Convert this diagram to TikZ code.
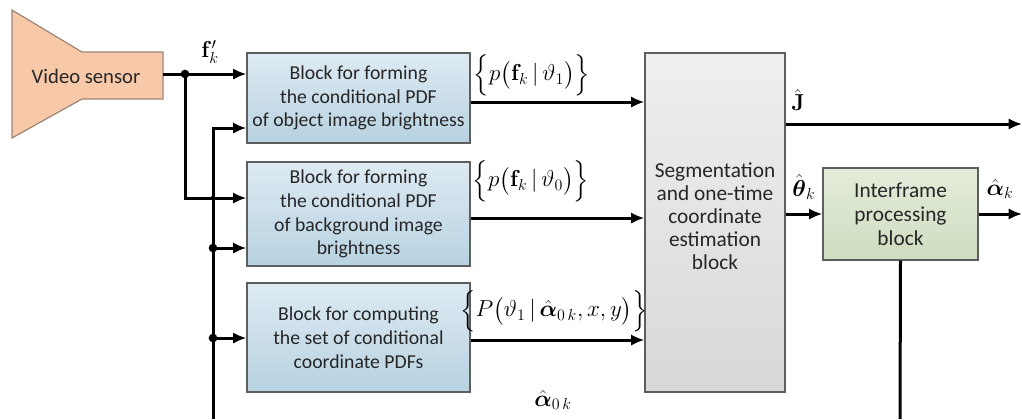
\documentclass[tikz,border=0pt]{standalone}
\usepackage{amsmath}
\usepackage[no-math]{fontspec}
\setmainfont{Carlito}
\usetikzlibrary{arrows.meta,calc}

\definecolor{txt}{HTML}{262626}
\definecolor{edge}{HTML}{5E5E5E}
\definecolor{sensorfill}{HTML}{F8C9A8}
\definecolor{sensoredge}{HTML}{9C8576}
\definecolor{bluetop}{HTML}{DDEAF2}
\definecolor{bluebot}{HTML}{B8D2E1}
\definecolor{graytop}{HTML}{EFEFEF}
\definecolor{graybot}{HTML}{D8D8D8}
\definecolor{greentop}{HTML}{E3ECDA}
\definecolor{greenbot}{HTML}{CEDCBF}

\tikzset{
  wire/.style={line width=2.25pt, draw=black},
  arr/.style={wire, -{Latex[length=10pt,width=8.5pt]}},
  jdot/.style={circle, fill=black, inner sep=0pt, minimum size=6.5pt},
  smalldot/.style={circle, fill=black, inner sep=0pt, minimum size=3.5pt},
  bluebox/.style={draw=edge, line width=0.9pt, top color=bluetop, bottom color=bluebot,
    text=txt, align=center, font=\fontsize{14.8pt}{17.8pt}\selectfont,
    minimum width=167.25pt, inner sep=0pt},
  graybox/.style={draw=edge, line width=0.9pt, top color=graytop, bottom color=graybot,
    inner sep=0pt},
  graytext/.style={text=txt, align=center, font=\fontsize{16pt}{17.2pt}\selectfont, inner sep=0pt},
  greenbox/.style={draw=edge, line width=0.9pt, top color=greentop, bottom color=greenbot,
    text=txt, align=center, font=\fontsize{16pt}{18pt}\selectfont, inner sep=0pt},
  lbl/.style={inner sep=0pt, font=\fontsize{17pt}{19pt}\selectfont}
}

\begin{document}
\begin{tikzpicture}[x=0.75pt,y=-0.75pt]
\useasboundingbox (0,0) rectangle (1022,419);

% video sensor (horn-shaped outline)
\draw[draw=sensoredge, line width=0.9pt, fill=sensorfill]
  (12,10) -- (82,52) -- (163,52) -- (163,99) -- (82,99) -- (12,138) -- cycle;
\node[text=txt, font=\fontsize{15.5pt}{18pt}\selectfont, inner sep=0pt] (vs) at (86,76) {Video sensor};
\coordinate (vsout) at (163,74);

% processing blocks
\node[bluebox, minimum height=67.5pt] (b1) at (358.5,98)
  {Block for forming\\ the conditional PDF\\ of object image brightness};
\node[bluebox, minimum height=78pt] (b2) at (358.5,214)
  {Block for forming\\ the conditional PDF\\ of background image\\ brightness};
\node[bluebox, minimum height=81.75pt] (b3) at (358.5,337.5)
  {Block for computing\\ the set of conditional\\ coordinate PDFs};
\node[graybox, minimum width=105pt, minimum height=254.25pt] (seg) at (715,222.5) {};
\node[graytext] (segtxt) at (715,216)
  {Segmentation\\ and one-time\\ coordinate\\ estimation\\ block};
\node[greenbox, minimum width=116.25pt, minimum height=69pt] (ifp) at (900.5,214)
  {Interframe\\ processing\\ block};

% junctions and free ends
\coordinate (j1) at (185,74);
\coordinate (bt) at (213,128);
\coordinate (bb) at (213,419);
\coordinate (j2) at (213,248);
\coordinate (j3) at (213,338);
\coordinate (jx) at (213,198);
\coordinate (o1) at (470,102);
\coordinate (o2) at (470,218);
\coordinate (o3) at (470,340);
\coordinate (jout) at (1022,124);
\coordinate (aout) at (1022,214);
\coordinate (fb) at (900,419);

% input distribution
\draw[arr] (vsout) -- (vsout -| b1.west);
\draw[arr] (j1) |- (jx -| b2.west);
\draw[arr] (bb) |- (bt -| b1.west);
\draw[arr] (j2) -- (j2 -| b2.west);
\draw[arr] (j3) -- (j3 -| b3.west);
\node[jdot] at (j1) {};
\node[jdot] at (j2) {};
\node[jdot] at (j3) {};
\node[smalldot] at (jx) {};

% block outputs into segmentation
\draw[arr] (o1 -| b1.east) -- (o1 -| seg.west);
\draw[arr] (o2 -| b2.east) -- (o2 -| seg.west);
\draw[arr] (o3 -| b3.east) -- (o3 -| seg.west);

% segmentation outputs
\draw[arr] (jout -| seg.east) -- (jout);
\draw[arr] (ifp.west -| seg.east) -- (ifp.west);
\draw[arr] (ifp.east) -- (aout);
\draw[wire] (ifp.south) -- (fb);

% labels
\node[lbl] (lf) at (210,52) {$\mathbf{f}_k^{\prime}$};
\node[lbl] (l1) at (532,75) {$\Bigl\{p\bigl(\mathbf{f}_k\,|\,\vartheta_1\bigr)\Bigr\}$};
\node[lbl] (l2) at (531,181) {$\Bigl\{p\bigl(\mathbf{f}_k\,|\,\vartheta_0\bigr)\Bigr\}$};
\node[lbl] (l3) at (554,311) {$\Bigl\{P\bigl(\vartheta_1\,|\,\hat{\boldsymbol{\alpha}}_{0\,k},x,y\bigr)\Bigr\}$};
\node[lbl] (l4) at (553,400) {$\hat{\boldsymbol{\alpha}}_{0\,k}$};
\node[lbl] (lj) at (798,100) {$\hat{\mathbf{J}}$};
\node[lbl] (lt) at (804,187) {$\hat{\boldsymbol{\theta}}_k$};
\node[lbl] (la) at (1000,189) {$\hat{\boldsymbol{\alpha}}_k$};
\end{tikzpicture}
\end{document}
